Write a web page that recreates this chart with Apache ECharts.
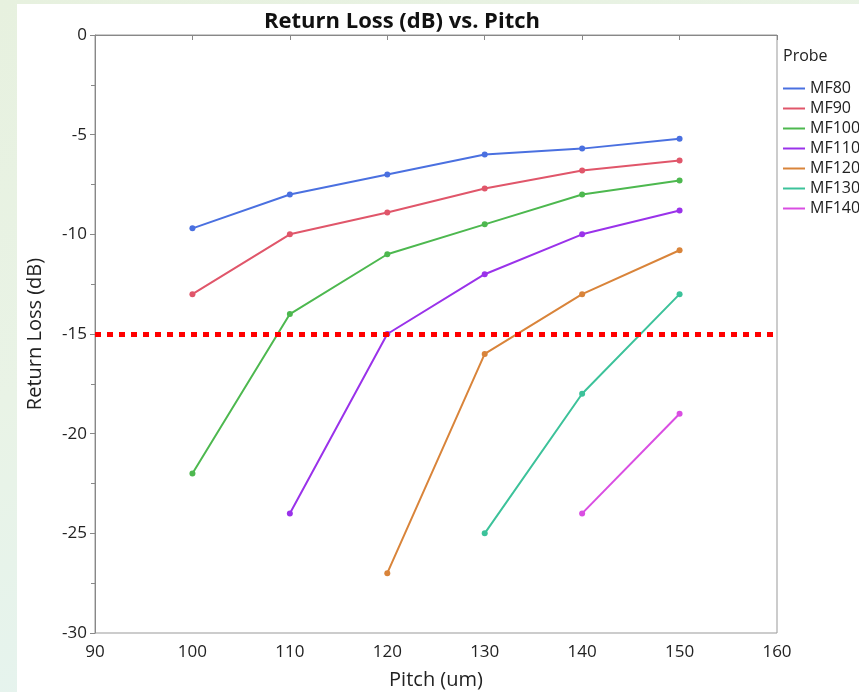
<!DOCTYPE html>
<html>
<head>
<meta charset="utf-8">
<script src="https://cdn.jsdelivr.net/npm/echarts@6/dist/echarts.min.js"></script>
<style>
html,body{margin:0;padding:0;width:859px;height:692px;overflow:hidden;
background:linear-gradient(160deg,#e7f1df 0%,#e9f3e6 40%,#e2f3f5 100%);}
#chart{position:absolute;left:17px;top:4px;width:842px;height:688px;background:#fff;}
</style>
</head>
<body>
<div id="chart"></div>
<script>
var pitch = [100, 110, 120, 130, 140, 150];
var probes = ['MF80', 'MF90', 'MF100', 'MF110', 'MF120', 'MF130', 'MF140'];
var mf80  = [-9.7, -8.0, -7.0, -6.0, -5.7, -5.2];
var mf90  = [-13.0, -10.0, -8.9, -7.7, -6.8, -6.3];
var mf100 = [-22.0, -14.0, -11.0, -9.5, -8.0, -7.3];
var mf110 = [null, -24.0, -15.0, -12.0, -10.0, -8.8];
var mf120 = [null, null, -27.0, -16.0, -13.0, -10.8];
var mf130 = [null, null, null, -25.0, -18.0, -13.0];
var mf140 = [null, null, null, null, -24.0, -19.0];
var threshold = -15;
var xTicks = [90, 100, 110, 120, 130, 140, 150, 160];
var yTicks = [-30, -25, -20, -15, -10, -5, 0];

var values = [mf80, mf90, mf100, mf110, mf120, mf130, mf140];
var colors = ['#4a70e0', '#e0566a', '#4db84f', '#9a32ea', '#d9843a', '#3cc29a', '#d94ee2'];
var font = '"Open Sans", "Noto Sans", sans-serif';

var series = probes.map(function (name, i) {
  var pts = [];
  pitch.forEach(function (p, j) { if (values[i][j] !== null) pts.push([p, values[i][j]]); });
  return {
    name: name, type: 'line', data: pts,
    symbol: 'circle', symbolSize: 6,
    lineStyle: { width: 2, color: colors[i] },
    itemStyle: { color: colors[i] },
    emphasis: { disabled: true }, animation: false, z: 3
  };
});
series.push({
  name: 'threshold', type: 'line', data: [], animation: false, z: 5,
  markLine: {
    silent: true, symbol: 'none', label: { show: false },
    lineStyle: { color: '#ff0000', width: 5, type: [6, 6], cap: 'butt' },
    data: [{ yAxis: threshold }], animation: false
  }
});

var chart = echarts.init(document.getElementById('chart'));
chart.setOption({
  animation: false,
  title: {
    text: 'Return Loss (dB) vs. Pitch', left: 380, top: 2, textAlign: 'center',
    textStyle: { fontFamily: font, fontSize: 22, fontWeight: 'bold', color: '#111' }
  },
  grid: { left: 78, top: 31, width: 682, height: 598, show: true, borderColor: '#999', borderWidth: 1,
          outerBoundsMode: 'none', containLabel: false },
  legend: {
    data: probes, orient: 'vertical', left: 761, top: 70, itemGap: 1,
    icon: 'rect', itemWidth: 22, itemHeight: 2,
    textStyle: { fontFamily: font, fontSize: 16, color: '#222', lineHeight: 19 }
  },
  graphic: [{
    type: 'text', left: 766, top: 44,
    style: { text: 'Probe', fontFamily: font, fontSize: 16, fill: '#222' }
  }],
  xAxis: {
    type: 'value', min: xTicks[0], max: xTicks[xTicks.length - 1], interval: 10,
    name: 'Pitch (um)', nameLocation: 'middle', nameGap: 37,
    nameTextStyle: { fontFamily: font, fontSize: 20, color: '#222' },
    axisLine: { show: true, lineStyle: { color: '#888' } },
    axisTick: { show: true, length: 5, lineStyle: { color: '#888' } },
    axisLabel: { fontFamily: font, fontSize: 17, color: '#222', margin: 11 },
    splitLine: { show: false }
  },
  yAxis: {
    type: 'value', min: yTicks[0], max: yTicks[yTicks.length - 1], interval: 5,
    name: 'Return Loss (dB)', nameLocation: 'middle', nameGap: 50,
    nameTextStyle: { fontFamily: font, fontSize: 20, color: '#222' },
    axisLine: { show: true, lineStyle: { color: '#888' } },
    axisTick: { show: true, length: 5, lineStyle: { color: '#888' } },
    minorTick: { show: true, splitNumber: 2, length: 4, lineStyle: { color: '#888' } },
    axisLabel: { fontFamily: font, fontSize: 17, color: '#222', margin: 8 },
    splitLine: { show: false }
  },
  series: series
});
</script>
</body>
</html>
